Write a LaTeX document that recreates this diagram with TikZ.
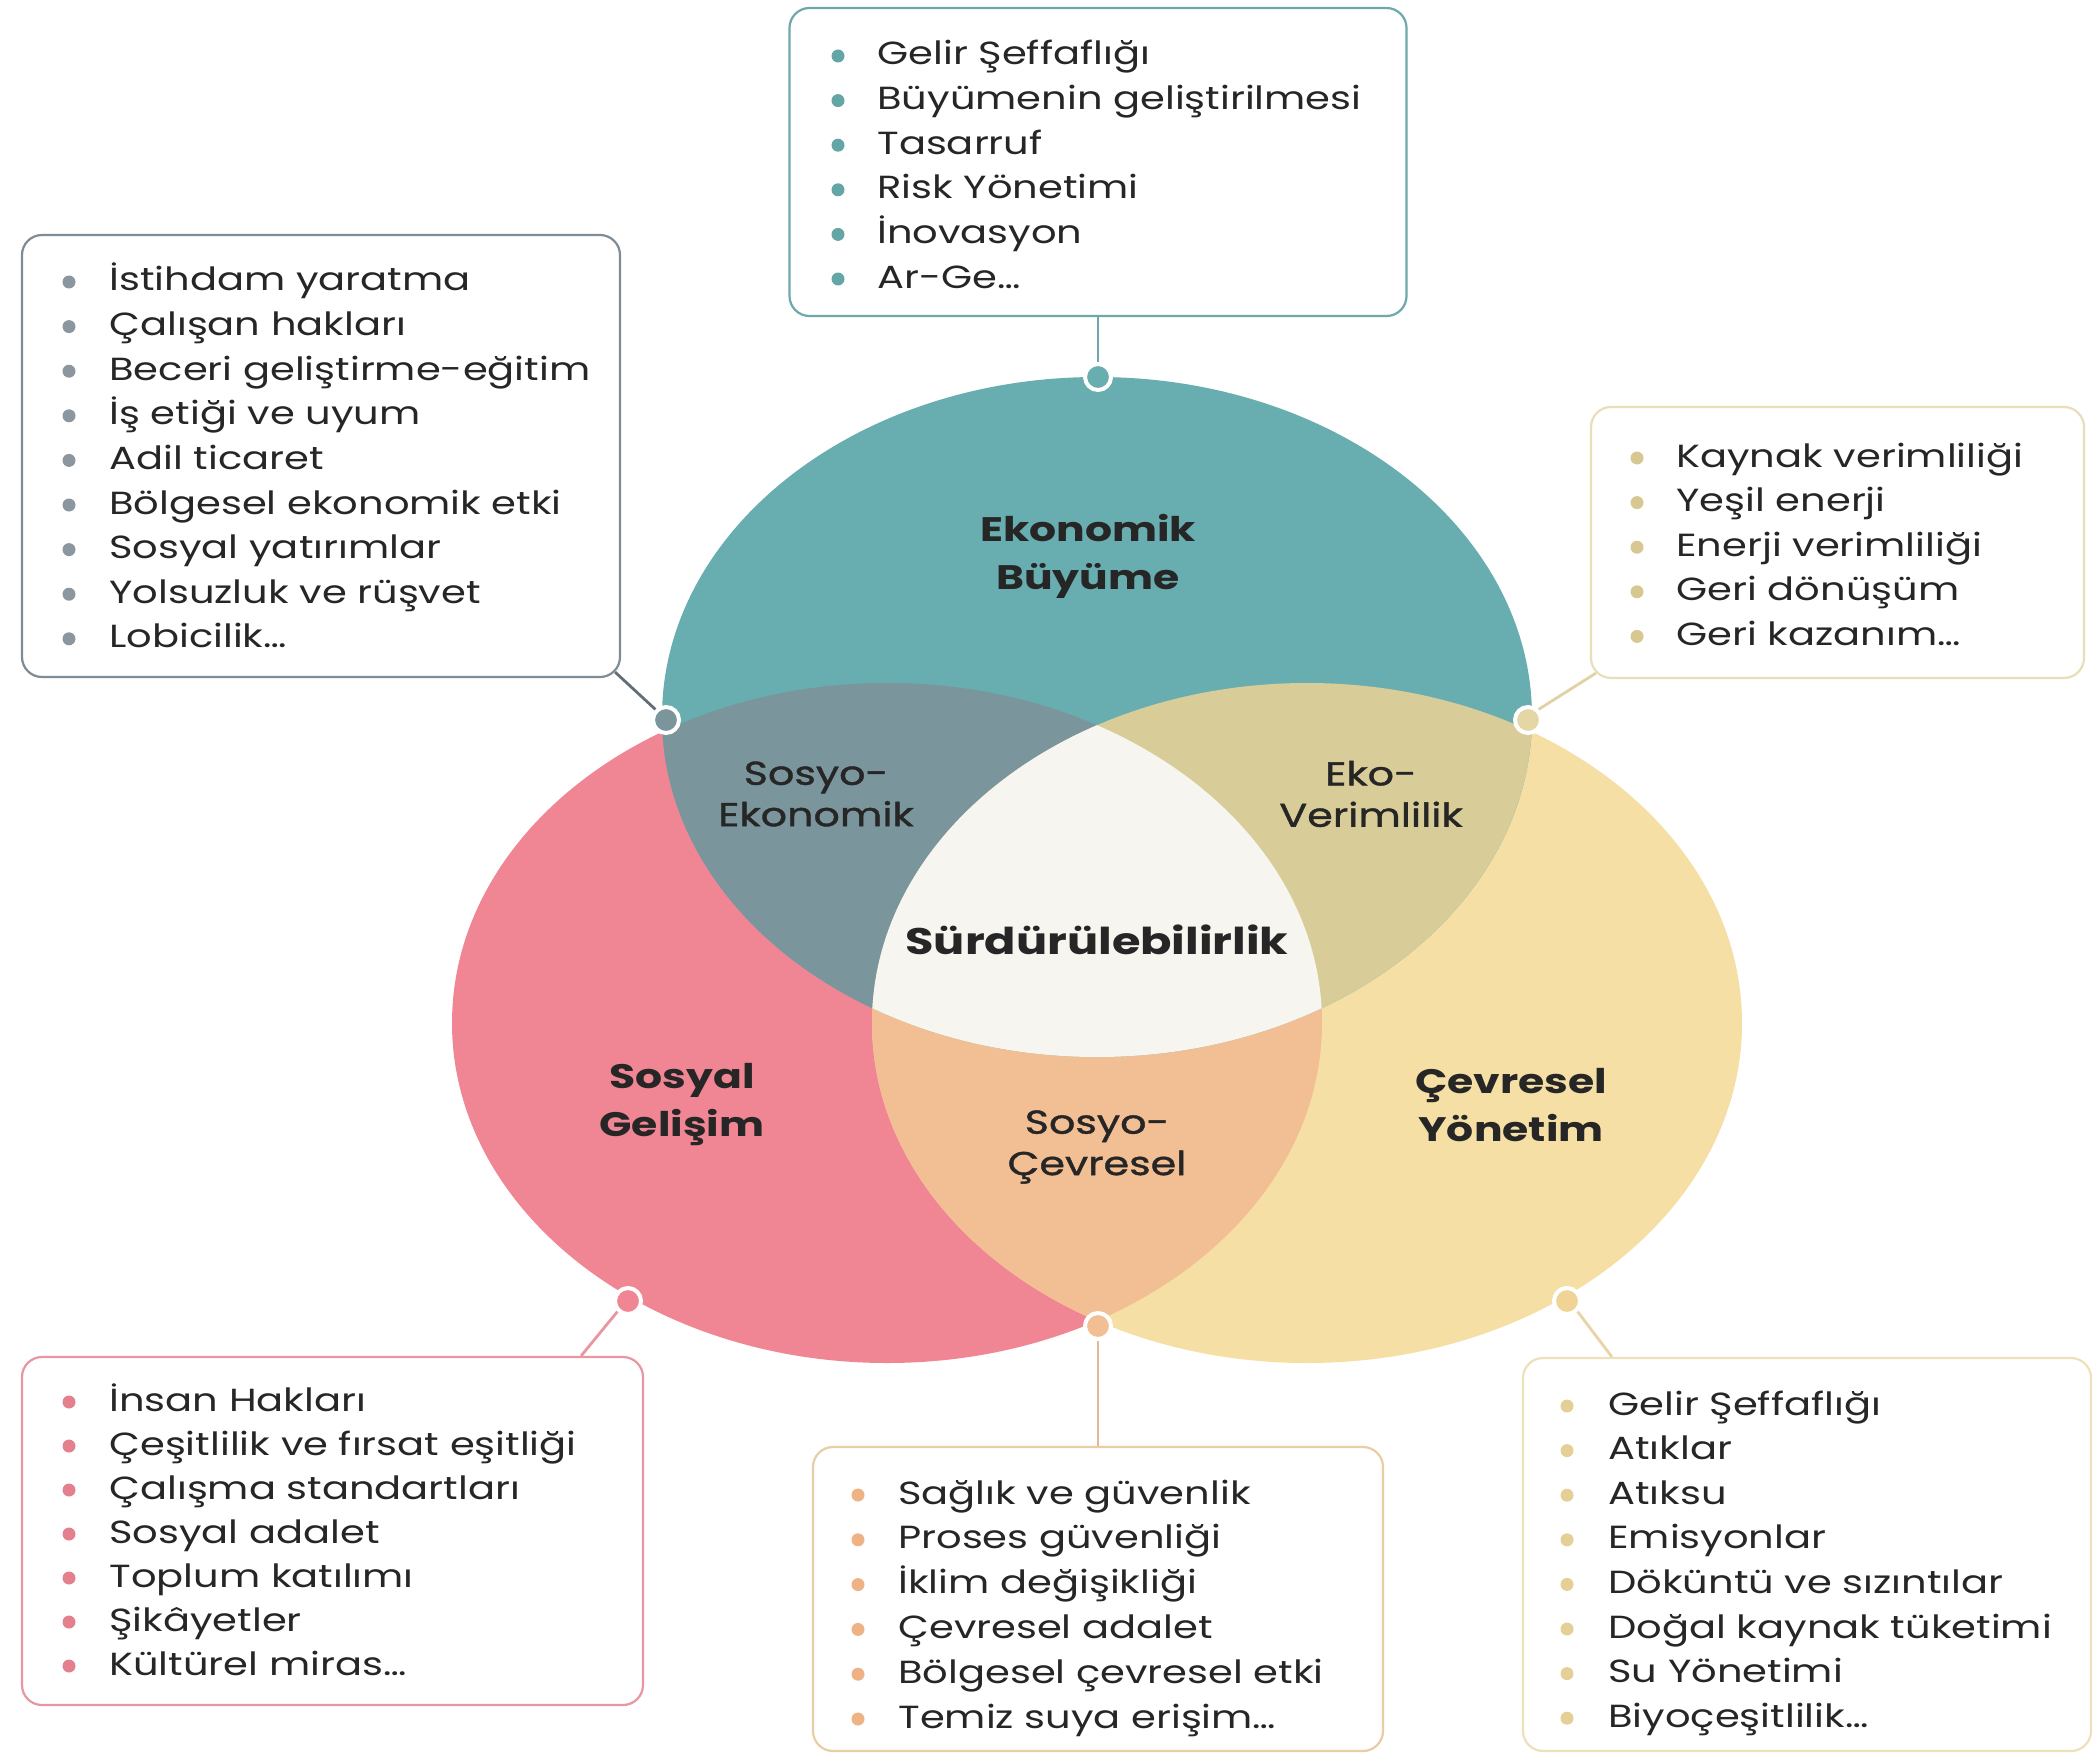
\documentclass[tikz,border=0pt]{standalone}
\usepackage{fontspec}
\setmainfont{Poppins}[FakeStretch=1.25]
\newfontfamily\medfont{Poppins}[FakeStretch=1.25, FakeBold=1.2]
\definecolor{cTeal}{RGB}{104,173,175}
\definecolor{cPink}{RGB}{240,134,148}
\definecolor{cYel}{RGB}{246,223,165}
\definecolor{cTP}{RGB}{122,149,156}
\definecolor{cTY}{RGB}{216,205,152}
\definecolor{cPY}{RGB}{242,190,148}
\definecolor{cMid}{RGB}{247,245,240}
\definecolor{cText}{RGB}{38,38,38}
\definecolor{bTop}{RGB}{110,168,170}
\definecolor{bLT}{RGB}{125,140,150}
\definecolor{bRT}{RGB}{232,222,185}
\definecolor{bBL}{RGB}{232,150,162}
\definecolor{bBM}{RGB}{232,205,165}
\definecolor{bBR}{RGB}{238,225,185}
\definecolor{dTop}{RGB}{100,165,165}
\definecolor{dLT}{RGB}{140,150,158}
\definecolor{dRT}{RGB}{215,200,145}
\definecolor{dBL}{RGB}{228,128,142}
\definecolor{dBM}{RGB}{238,178,132}
\definecolor{dBR}{RGB}{228,208,150}
\begin{document}
\begin{tikzpicture}[x=0.5pt,y=-0.5pt,
  listbox/.style={draw, rounded corners=10pt, line width=1.1pt, fill=white, inner sep=0pt},
  listitem/.style={anchor=base west, inner sep=0pt, text=cText, font=\fontsize{16}{20}\selectfont},
  bulletdot/.style={circle, inner sep=0pt, minimum size=6.5pt},
  hubdot/.style={circle, inner sep=0pt, minimum size=13pt, draw=white, line width=2pt},
  linkline/.style={line width=1.4pt},
  boldlab/.style={align=center, text=cText, inner sep=0pt, font=\fontsize{17}{24}\selectfont\bfseries},
  midlab/.style={align=center, text=cText, inner sep=0pt, font=\medfont\fontsize{16.5}{20.7}\selectfont}
]
\fill[white] (0,0) rectangle (2097,1755);
\useasboundingbox (0,0) rectangle (2097,1755);

% base ellipses
\fill[cPink] (887,1023) ellipse [x radius=217.5pt, y radius=170pt];
\fill[cYel] (1307,1023) ellipse [x radius=217.5pt, y radius=170pt];
\fill[cTeal] (1097,717) ellipse [x radius=217.5pt, y radius=170pt];
% pink & yellow
\begin{scope}
  \clip (887,1023) ellipse [x radius=217.5pt, y radius=170pt];
  \fill[cPY] (1307,1023) ellipse [x radius=217.5pt, y radius=170pt];
\end{scope}
% teal overlaps
\begin{scope}
  \clip (1097,717) ellipse [x radius=217.5pt, y radius=170pt];
  \fill[cTP] (887,1023) ellipse [x radius=217.5pt, y radius=170pt];
  \fill[cTY] (1307,1023) ellipse [x radius=217.5pt, y radius=170pt];
\end{scope}
% centre
\begin{scope}
  \clip (1097,717) ellipse [x radius=217.5pt, y radius=170pt];
  \clip (887,1023) ellipse [x radius=217.5pt, y radius=170pt];
  \fill[cMid] (1307,1023) ellipse [x radius=217.5pt, y radius=170pt];
\end{scope}

% boxes
\node[listbox, draw=bTop, minimum width=308.5pt, minimum height=154pt] (boxTop) at (1098,162) {};
\node[listbox, draw=bLT, minimum width=299pt, minimum height=221pt] (boxLT) at (321,456) {};
\node[listbox, draw=bRT, minimum width=246.5pt, minimum height=135.5pt] (boxRT) at (1837.5,542.5) {};
\node[listbox, draw=bBL, minimum width=310.5pt, minimum height=174pt] (boxBL) at (332.5,1531) {};
\node[listbox, draw=bBM, minimum width=285pt, minimum height=152pt] (boxBM) at (1098,1599) {};
\node[listbox, draw=bBR, minimum width=284pt, minimum height=196.5pt] (boxBR) at (1807,1554.5) {};

% hub dots
\node[hubdot, fill=cTeal] (hTop) at (1098,377) {};
\node[hubdot, fill=cTP] (hLT) at (666,720) {};
\node[hubdot, fill={rgb,255:red,228;green,214;blue,165}] (hRT) at (1528,720) {};
\node[hubdot, fill=cPink] (hBL) at (628,1301) {};
\node[hubdot, fill=cPY] (hBM) at (1098,1326) {};
\node[hubdot, fill={rgb,255:red,240;green,212;blue,150}] (hBR) at (1567,1301) {};

% connectors
\draw[linkline, draw=bTop] (hTop.north) -- (boxTop.south);
\draw[linkline, draw={rgb,255:red,100;green,110;blue,120}] (hLT.north west) -- ([xshift=-3pt,yshift=3pt]boxLT.south east);
\draw[linkline, draw={rgb,255:red,225;green,210;blue,165}] (hRT.north east) -- ([xshift=3pt,yshift=3pt]boxRT.south west);
\draw[linkline, draw=bBL] (hBL.south west) -- ([xshift=-31.5pt]boxBL.north east);
\draw[linkline, draw={rgb,255:red,228;green,185;blue,145}] (hBM.south) -- (boxBM.north);
\draw[linkline, draw={rgb,255:red,232;green,212;blue,165}] (hBR.south east) -- ([xshift=45pt]boxBR.north west);

% labels
\node[boldlab] (lEko) at (1088,556) {Ekonomik\\Büyüme};
\node[boldlab] (lSos) at (682,1105) {Sosyal\\Gelişim};
\node[boldlab] (lCev) at (1511,1105) {Çevresel\\Yönetim};
\node[midlab] (lSE) at (816,794) {Sosyo-\\Ekonomik};
\node[midlab] (lEV) at (1371,794) {Eko-\\Verimlilik};
\node[midlab] (lSC) at (1097,1147) {Sosyo-\\Çevresel};
\node[boldlab, font=\fontsize{18.5}{24}\selectfont\bfseries] (lSur) at (1097,940) {Sürdürülebilirlik};

% lists
\foreach \t [count=\i] in {Gelir Şeffaflığı, Büyümenin geliştirilmesi, Tasarruf, Risk Yönetimi, İnovasyon, Ar-Ge…}{
  \node[listitem] (top-t\i) at (877,{65+44.6*(\i-1)}) {\t};
  \node[bulletdot, fill=dTop] (top-b\i) at (838,{56+44.6*(\i-1)}) {};
}
\foreach \t [count=\i] in {İstihdam yaratma, Çalışan hakları, Beceri geliştirme-eğitim, İş etiği ve uyum, Adil ticaret, Bölgesel ekonomik etki, Sosyal yatırımlar, Yolsuzluk ve rüşvet, Lobicilik…}{
  \node[listitem] (lt-t\i) at (109,{291+44.6*(\i-1)}) {\t};
  \node[bulletdot, fill=dLT] (lt-b\i) at (69,{282+44.6*(\i-1)}) {};
}
\foreach \t [count=\i] in {Kaynak verimliliği, Yeşil enerji, Enerji verimliliği, Geri dönüşüm, Geri kazanım…}{
  \node[listitem] (rt-t\i) at (1676,{467+44.6*(\i-1)}) {\t};
  \node[bulletdot, fill=dRT] (rt-b\i) at (1637,{458+44.6*(\i-1)}) {};
}
\foreach \t [count=\i] in {İnsan Hakları, Çeşitlilik ve fırsat eşitliği, Çalışma standartları, Sosyal adalet, Toplum katılımı, Şikâyetler, Kültürel miras…}{
  \node[listitem] (bl-t\i) at (109,{1411+44*(\i-1)}) {\t};
  \node[bulletdot, fill=dBL] (bl-b\i) at (69,{1402+44*(\i-1)}) {};
}
\foreach \t [count=\i] in {Sağlık ve güvenlik, Proses güvenliği, İklim değişikliği, Çevresel adalet, Bölgesel çevresel etki, Temiz suya erişim…}{
  \node[listitem] (bm-t\i) at (898,{1504+44.8*(\i-1)}) {\t};
  \node[bulletdot, fill=dBM] (bm-b\i) at (858,{1495+44.8*(\i-1)}) {};
}
\foreach \t [count=\i] in {Gelir Şeffaflığı, Atıklar, Atıksu, Emisyonlar, Döküntü ve sızıntılar, Doğal kaynak tüketimi, Su Yönetimi, Biyoçeşitlilik…}{
  \node[listitem] (br-t\i) at (1608,{1415+44.6*(\i-1)}) {\t};
  \node[bulletdot, fill=dBR] (br-b\i) at (1567,{1406+44.6*(\i-1)}) {};
}
\end{tikzpicture}
\end{document}
